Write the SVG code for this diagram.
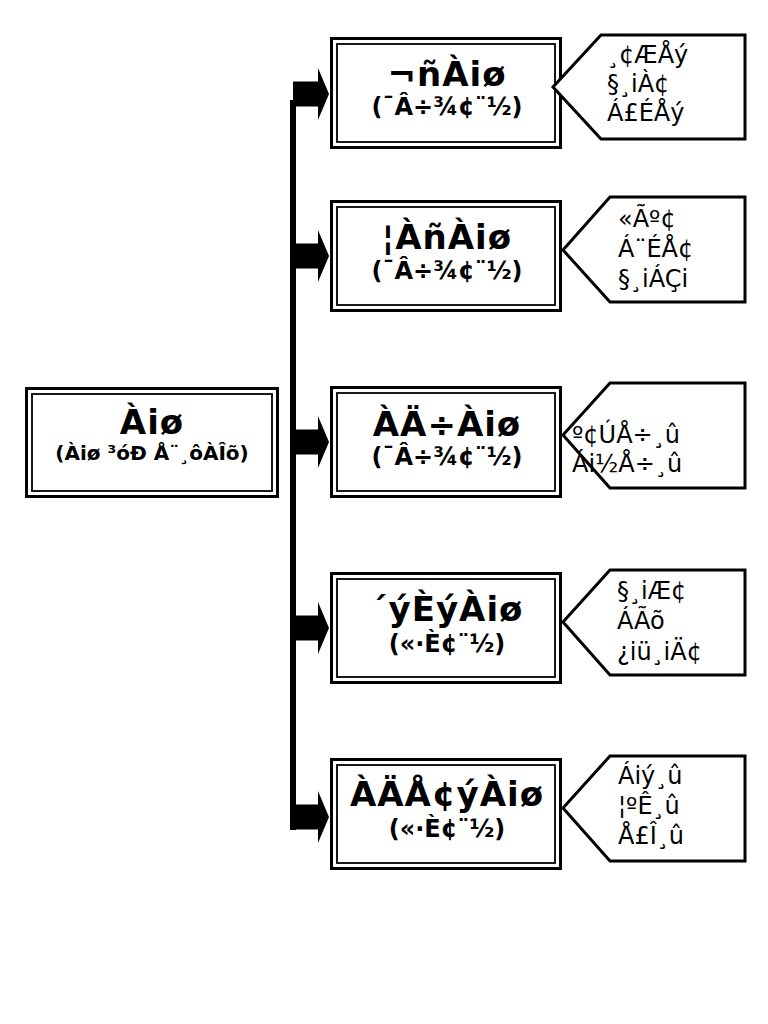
<svg xmlns="http://www.w3.org/2000/svg" width="768" height="1024" viewBox="0 0 768 1024">
<style>
.outer{fill:#fff;stroke:#000;stroke-width:3}
.inner{fill:none;stroke:#000;stroke-width:1.8}
.tag{fill:#fff;stroke:#000;stroke-width:3;stroke-linejoin:miter}
.title{font-family:"DejaVu Sans","Noto Sans",sans-serif;font-weight:bold;font-size:34px;text-anchor:middle;letter-spacing:1px}
.sub{font-family:"DejaVu Sans","Noto Sans",sans-serif;font-weight:bold;font-size:24px;text-anchor:middle}
.sub2{font-family:"DejaVu Sans","Noto Sans",sans-serif;font-weight:bold;font-size:20px;text-anchor:middle}
.note{font-family:"DejaVu Sans","Noto Sans",sans-serif;font-size:24px}
</style>
<defs>
<path id="blk" d="M0,-12.5 L25,-12.5 L25,-26 L36,0 L25,26 L25,12.5 L0,12.5 Z"/>
</defs>
<rect width="768" height="1024" fill="#fff"/>
<g id="connectors" fill="#000">
<rect x="290" y="100" width="6" height="730"/>
<use href="#blk" x="293" y="94"/>
<use href="#blk" x="293" y="256"/>
<use href="#blk" x="293" y="442"/>
<use href="#blk" x="293" y="628"/>
<use href="#blk" x="293" y="817"/>
</g>
<g id="root">
<rect class="outer" x="26.5" y="388.5" width="251" height="108"/>
<rect class="inner" x="32" y="394" width="240" height="97"/>
<text class="title" x="152" y="434" letter-spacing="2">Àiø</text>
<text class="sub2" x="152" y="460">(Àiø ³óÐ Å¨¸ôÀÎõ)</text>
</g>
<g id="n1">
<rect class="outer" x="331.5" y="38.5" width="229" height="109"/>
<rect class="inner" x="337" y="44" width="218" height="98"/>
<text class="title" x="447" y="86">¬ñÀiø</text>
<text class="sub" x="447" y="115">(¯Â÷¾¢¨½)</text>
</g>
<g id="n2">
<rect class="outer" x="331.5" y="201.5" width="229" height="109"/>
<rect class="inner" x="337" y="207" width="218" height="98"/>
<text class="title" x="447" y="249">¦ÀñÀiø</text>
<text class="sub" x="447" y="279">(¯Â÷¾¢¨½)</text>
</g>
<g id="n3">
<rect class="outer" x="331.5" y="387.5" width="229" height="109"/>
<rect class="inner" x="337" y="393" width="218" height="98"/>
<text class="title" x="447" y="436">ÀÄ÷Àiø</text>
<text class="sub" x="447" y="465">(¯Â÷¾¢¨½)</text>
</g>
<g id="n4">
<rect class="outer" x="331.5" y="573.5" width="229" height="109"/>
<rect class="inner" x="337" y="579" width="218" height="98"/>
<text class="title" x="447" y="621">´ýÈýÀiø</text>
<text class="sub" x="447" y="652">(«·È¢¨½)</text>
</g>
<g id="n5">
<rect class="outer" x="331.5" y="759.5" width="229" height="109"/>
<rect class="inner" x="337" y="765" width="218" height="98"/>
<text class="title" x="447" y="806">ÀÄÅ¢ýÀiø</text>
<text class="sub" x="447" y="837">(«·È¢¨½)</text>
</g>
<g id="t1">
<polygon class="tag" points="553,87 601,35 745,35 745,139 601,139"/>
<text class="note" x="607" y="63">¸¢ÆÅý</text>
<text class="note" x="607" y="92">§¸iÀ¢</text>
<text class="note" x="607" y="121">Á£ÉÅý</text>
</g>
<g id="t2">
<polygon class="tag" points="563,250 610,197 745,197 745,302 610,302"/>
<text class="note" x="618" y="227">«Ãº¢</text>
<text class="note" x="618" y="257">Á¨ÉÅ¢</text>
<text class="note" x="618" y="287">§¸iÁÇi</text>
</g>
<g id="t3">
<polygon class="tag" points="563,435 610,383 745,383 745,488 610,488"/>
<text class="note" x="572" y="443">º¢ÚÅ÷¸û</text>
<text class="note" x="572" y="472">Ái½Å÷¸û</text>
</g>
<g id="t4">
<polygon class="tag" points="563,622 610,570 745,570 745,675 610,675"/>
<text class="note" x="617" y="599">§¸iÆ¢</text>
<text class="note" x="617" y="629">ÁÃõ</text>
<text class="note" x="617" y="660">¿iü¸iÄ¢</text>
</g>
<g id="t5">
<polygon class="tag" points="563,808 610,756 745,756 745,861 610,861"/>
<text class="note" x="618" y="784">Áiý¸û</text>
<text class="note" x="618" y="814">¦ºÊ¸û</text>
<text class="note" x="618" y="844">Å£Î¸û</text>
</g>
</svg>
